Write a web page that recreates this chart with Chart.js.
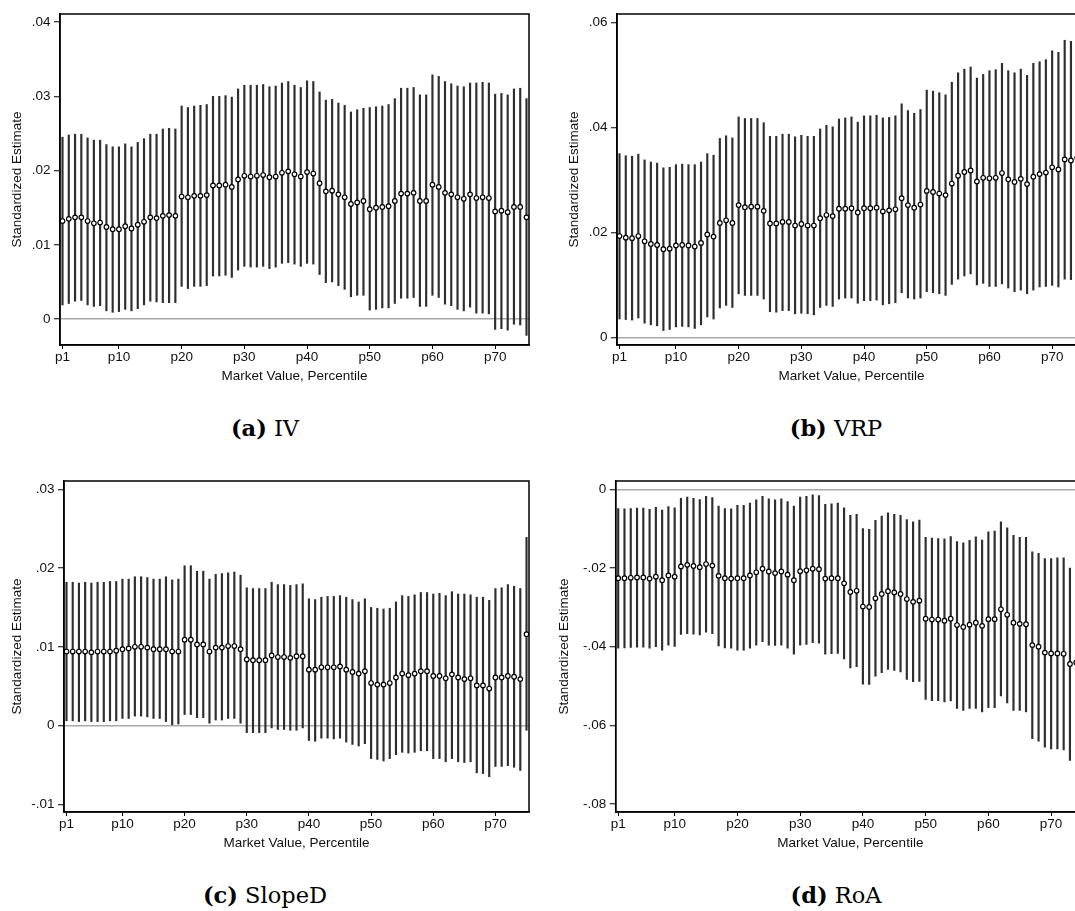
<!DOCTYPE html>
<html>
<head>
<meta charset="utf-8">
<title>Standardized estimates by market value percentile</title>
<script src="https://cdn.jsdelivr.net/npm/chart.js@4/dist/chart.umd.min.js"></script>
<style>
    html, body { margin: 0; padding: 0; background: #fff; overflow: hidden; width: 1075px; height: 911px; }
    .panel { position: absolute; }
    .cap { position: absolute; font-family: 'DejaVu Serif', serif; font-size: 22.5px; color: #000;
           transform: translate(-50%, -50%); white-space: nowrap; }
    .cap b { font-weight: bold; }
</style>
</head>
<body>
<canvas id="chartIV" class="panel" width="545" height="385" style="left:0px;top:0px"></canvas>
<canvas id="chartVRP" class="panel" width="545" height="385" style="left:556.7px;top:0px"></canvas>
<canvas id="chartSlope" class="panel" width="545" height="385" style="left:0px;top:467px"></canvas>
<canvas id="chartRoA" class="panel" width="553" height="385" style="left:548px;top:467px"></canvas>

<div class="cap" style="left:265px;top:428px"><b>(a)</b> IV</div>
<div class="cap" style="left:836px;top:428px"><b>(b)</b> VRP</div>
<div class="cap" style="left:265px;top:895px"><b>(c)</b> SlopeD</div>
<div class="cap" style="left:836px;top:895px"><b>(d)</b> RoA</div>

<script>
// x categories: market value percentiles p1..p75
const percentiles = Array.from({ length: 75 }, (_, i) => i + 1);
const xTicks = [1, 10, 20, 30, 40, 50, 60, 70];

// (a) IV
const ivEst = [
    .0132, .0135, .0137, .0137, .0132, .0129, .0130, .0124, .0121, .0121,
    .0125, .0122, .0127, .0131, .0137, .0136, .0139, .0140, .0139, .0165,
    .0164, .0166, .0166, .0167, .0180, .0180, .0181, .0178, .0188, .0193,
    .0192, .0193, .0194, .0191, .0192, .0197, .0199, .0195, .0192, .0198,
    .0196, .0183, .0172, .0173, .0168, .0164, .0155, .0157, .0159, .0148,
    .0150, .0151, .0152, .0159, .0169, .0169, .0170, .0159, .0159, .0181,
    .0178, .0170, .0168, .0164, .0162, .0168, .0163, .0164, .0163, .0145,
    .0146, .0144, .0151, .0151, .0137
];
const ivHi = [
    .0245, .0248, .0249, .0249, .0244, .0241, .0241, .0235, .0232, .0232,
    .0236, .0232, .0238, .0243, .0249, .0249, .0256, .0257, .0256, .0287,
    .0285, .0287, .0288, .0289, .0300, .0300, .0301, .0299, .0310, .0315,
    .0315, .0315, .0316, .0313, .0314, .0318, .0320, .0315, .0312, .0321,
    .0320, .0306, .0295, .0296, .0291, .0288, .0279, .0282, .0284, .0285,
    .0286, .0287, .0289, .0297, .0311, .0311, .0312, .0302, .0302, .0329,
    .0327, .0320, .0317, .0314, .0313, .0318, .0318, .0319, .0318, .0303,
    .0304, .0302, .0310, .0311, .0297
];
const ivLo = [
    .0019, .0021, .0024, .0025, .0019, .0017, .0018, .0011, .0009, .0010,
    .0013, .0011, .0014, .0019, .0024, .0023, .0022, .0022, .0022, .0044,
    .0041, .0044, .0044, .0045, .0058, .0058, .0059, .0056, .0066, .0071,
    .0070, .0070, .0071, .0068, .0070, .0075, .0076, .0074, .0071, .0075,
    .0074, .0060, .0049, .0050, .0045, .0040, .0030, .0032, .0032, .0012,
    .0013, .0015, .0015, .0021, .0028, .0028, .0029, .0017, .0017, .0032,
    .0029, .0020, .0018, .0013, .0011, .0016, .0008, .0008, .0007, -.0014,
    -.0013, -.0015, -.0007, -.0008, -.0022
];
const ivTicks = [0, .01, .02, .03, .04];

// (b) VRP
const vrpEst = [
    .0193, .0190, .0189, .0193, .0183, .0178, .0176, .0168, .0169, .0175,
    .0176, .0175, .0173, .0180, .0196, .0192, .0218, .0223, .0218, .0252,
    .0248, .0249, .0249, .0241, .0217, .0217, .0220, .0220, .0213, .0216,
    .0213, .0213, .0227, .0233, .0231, .0245, .0245, .0246, .0238, .0246,
    .0246, .0247, .0240, .0242, .0244, .0265, .0252, .0247, .0253, .0279,
    .0277, .0274, .0271, .0293, .0308, .0315, .0318, .0297, .0304, .0303,
    .0304, .0313, .0301, .0296, .0302, .0292, .0306, .0311, .0314, .0324,
    .0320, .0339, .0337, .0342, .0336
];
const vrpHi = [
    .0350, .0346, .0345, .0349, .0338, .0334, .0332, .0323, .0324, .0329,
    .0330, .0329, .0329, .0334, .0350, .0347, .0379, .0384, .0380, .0420,
    .0417, .0417, .0417, .0409, .0383, .0383, .0387, .0387, .0382, .0385,
    .0383, .0383, .0397, .0404, .0401, .0416, .0418, .0420, .0410, .0422,
    .0422, .0423, .0418, .0419, .0422, .0445, .0432, .0427, .0434, .0471,
    .0469, .0466, .0462, .0486, .0504, .0511, .0515, .0494, .0501, .0508,
    .0510, .0522, .0508, .0504, .0511, .0499, .0522, .0525, .0529, .0546,
    .0543, .0566, .0564, .0570, .0565
];
const vrpLo = [
    .0035, .0034, .0033, .0037, .0027, .0024, .0022, .0013, .0015, .0020,
    .0021, .0020, .0017, .0024, .0039, .0035, .0056, .0061, .0057, .0083,
    .0080, .0080, .0080, .0073, .0049, .0048, .0051, .0051, .0045, .0046,
    .0045, .0043, .0057, .0061, .0059, .0073, .0075, .0075, .0065, .0070,
    .0070, .0071, .0062, .0064, .0066, .0085, .0075, .0073, .0075, .0087,
    .0085, .0083, .0080, .0101, .0111, .0117, .0121, .0100, .0103, .0097,
    .0097, .0102, .0094, .0087, .0090, .0083, .0090, .0096, .0097, .0099,
    .0096, .0111, .0110, .0114, .0107
];
const vrpTicks = [0, .02, .04, .06];

// (c) SlopeD
const slopeEst = [
    .0094, .0094, .0094, .0094, .0093, .0094, .0094, .0094, .0095, .0097,
    .0098, .0100, .0100, .0099, .0097, .0097, .0097, .0094, .0094, .0109,
    .0109, .0103, .0103, .0094, .0099, .0099, .0101, .0101, .0097, .0084,
    .0083, .0083, .0083, .0089, .0087, .0087, .0086, .0088, .0088, .0071,
    .0071, .0074, .0074, .0074, .0075, .0071, .0068, .0066, .0069, .0054,
    .0052, .0052, .0054, .0061, .0066, .0064, .0066, .0069, .0069, .0063,
    .0063, .0060, .0065, .0061, .0059, .0060, .0051, .0051, .0047, .0061,
    .0061, .0063, .0062, .0059, .0116
];
const slopeHi = [
    .0182, .0182, .0181, .0182, .0181, .0182, .0182, .0183, .0183, .0186,
    .0186, .0189, .0189, .0188, .0186, .0186, .0189, .0185, .0186, .0203,
    .0203, .0196, .0196, .0186, .0192, .0193, .0194, .0195, .0191, .0175,
    .0174, .0174, .0174, .0182, .0179, .0179, .0178, .0179, .0180, .0161,
    .0160, .0163, .0164, .0164, .0165, .0163, .0160, .0157, .0161, .0150,
    .0149, .0148, .0149, .0157, .0165, .0164, .0166, .0169, .0169, .0167,
    .0168, .0165, .0170, .0167, .0167, .0166, .0163, .0163, .0159, .0174,
    .0175, .0179, .0177, .0174, .0239
];
const slopeLo = [
    .0006, .0006, .0005, .0006, .0005, .0005, .0005, .0006, .0006, .0009,
    .0009, .0012, .0012, .0011, .0009, .0009, .0005, .0001, .0002, .0014,
    .0014, .0010, .0010, .0003, .0007, .0007, .0009, .0009, .0003, -.0009,
    -.0009, -.0009, -.0009, -.0003, -.0005, -.0005, -.0006, -.0006, -.0003, -.0019,
    -.0020, -.0016, -.0016, -.0017, -.0016, -.0021, -.0024, -.0026, -.0023, -.0042,
    -.0043, -.0045, -.0042, -.0037, -.0034, -.0035, -.0034, -.0032, -.0032, -.0042,
    -.0042, -.0046, -.0042, -.0046, -.0047, -.0046, -.0060, -.0061, -.0065, -.0052,
    -.0052, -.0051, -.0053, -.0057, -.0006
];
const slopeTicks = [-.01, 0, .01, .02, .03];

// (d) RoA
const roaEst = [
    -.0226, -.0226, -.0225, -.0224, -.0224, -.0227, -.0222, -.0231, -.0219, -.0222,
    -.0196, -.0192, -.0195, -.0198, -.0190, -.0194, -.0220, -.0226, -.0227, -.0226,
    -.0226, -.0219, -.0211, -.0202, -.0209, -.0213, -.0209, -.0217, -.0231, -.0208,
    -.0206, -.0202, -.0203, -.0227, -.0226, -.0226, -.0239, -.0261, -.0258, -.0298,
    -.0299, -.0277, -.0266, -.0259, -.0262, -.0266, -.0279, -.0286, -.0283, -.0329,
    -.0331, -.0331, -.0334, -.0329, -.0345, -.0350, -.0344, -.0339, -.0347, -.0330,
    -.0330, -.0305, -.0319, -.0339, -.0342, -.0343, -.0396, -.0400, -.0415, -.0417,
    -.0417, -.0418, -.0444, -.0440, -.0446
];
const roaHi = [
    -.0049, -.0050, -.0049, -.0048, -.0048, -.0051, -.0046, -.0053, -.0044, -.0047,
    -.0023, -.0020, -.0023, -.0026, -.0018, -.0021, -.0043, -.0049, -.0050, -.0041,
    -.0041, -.0035, -.0027, -.0018, -.0024, -.0027, -.0024, -.0031, -.0043, -.0020,
    -.0018, -.0014, -.0016, -.0038, -.0037, -.0035, -.0047, -.0066, -.0064, -.0100,
    -.0102, -.0079, -.0068, -.0060, -.0064, -.0066, -.0077, -.0083, -.0078, -.0122,
    -.0124, -.0125, -.0126, -.0120, -.0133, -.0136, -.0130, -.0121, -.0129, -.0108,
    -.0106, -.0083, -.0098, -.0117, -.0122, -.0122, -.0159, -.0163, -.0176, -.0176,
    -.0174, -.0174, -.0200, -.0195, -.0200
];
const roaLo = [
    -.0404, -.0403, -.0402, -.0401, -.0401, -.0404, -.0400, -.0409, -.0396, -.0399,
    -.0369, -.0367, -.0368, -.0370, -.0363, -.0367, -.0398, -.0403, -.0404, -.0409,
    -.0409, -.0404, -.0396, -.0387, -.0396, -.0397, -.0396, -.0404, -.0419, -.0396,
    -.0394, -.0390, -.0391, -.0419, -.0418, -.0417, -.0431, -.0454, -.0451, -.0495,
    -.0496, -.0475, -.0466, -.0458, -.0460, -.0464, -.0483, -.0489, -.0488, -.0534,
    -.0537, -.0537, -.0540, -.0538, -.0557, -.0562, -.0557, -.0557, -.0566, -.0555,
    -.0555, -.0525, -.0543, -.0562, -.0562, -.0566, -.0634, -.0640, -.0655, -.0660,
    -.0660, -.0662, -.0689, -.0685, -.0692
];
const roaTicks = [-.08, -.06, -.04, -.02, 0];

// Stata-style tick text: 0, .01, -.02
function fmtTick(v) {
    if (Math.abs(v) < 1e-9) return '0';
    return (v < 0 ? '-' : '') + Math.abs(v).toFixed(2).slice(1);
}

// box round the plot region
const plotFrame = {
    id: 'plotFrame',
    afterDatasetsDraw(chart) {
        const { ctx, chartArea: a } = chart;
        ctx.save();
        ctx.strokeStyle = '#000';
        ctx.lineWidth = 1.5;
        ctx.strokeRect(a.left, a.top, a.right - a.left, a.bottom - a.top);
        ctx.restore();
    }
};

Chart.defaults.font.family = "'Liberation Sans', Arial, sans-serif";
Chart.defaults.font.size = 13.5;
Chart.defaults.color = '#111';

function initPanel(id, est, lo, hi, yTicks, yMin, yMax, yWidth, titlePad) {
    const ctx = document.getElementById(id);
    if (!ctx) return;

    new Chart(ctx, {
        type: 'bar',
        data: {
            datasets: [{
                type: 'line',
                data: percentiles.map((x, i) => ({ x: x, y: est[i] })),
                showLine: false,
                pointRadius: 2.3,
                pointBorderWidth: 1.2,
                pointBackgroundColor: '#fff',
                pointBorderColor: '#000',
                order: 1
            }, {
                type: 'bar',
                data: percentiles.map((x, i) => ({ x: x, y: [lo[i], hi[i]] })),
                backgroundColor: '#2e2e2e',
                borderWidth: 0,
                barThickness: 1.5,
                order: 2
            }]
        },
        options: {
            responsive: false,
            animation: false,
            devicePixelRatio: 1,
            layout: { padding: { top: 14, right: 16, bottom: 0, left: 0 } },
            plugins: {
                legend: { display: false },
                tooltip: { enabled: false }
            },
            scales: {
                x: {
                    type: 'linear',
                    min: 0.6,
                    max: 75.4,
                    offset: false,
                    afterBuildTicks: function(scale) {
                        scale.ticks = xTicks.map(v => ({ value: v }));
                    },
                    afterFit: function(scale) { scale.height = 40; },
                    ticks: {
                        autoSkip: false,
                        maxRotation: 0,
                        padding: 0,
                        callback: function(value) { return 'p' + value; }
                    },
                    grid: { offset: false, drawOnChartArea: false, tickLength: 4, tickColor: '#000', tickWidth: 1 },
                    border: { color: '#000', width: 1.5 },
                    title: {
                        display: true,
                        text: 'Market Value, Percentile',
                        padding: { top: 0, bottom: 1 }
                    }
                },
                y: {
                    min: yMin,
                    max: yMax,
                    afterBuildTicks: function(scale) {
                        scale.ticks = yTicks.map(v => ({ value: v }));
                    },
                    afterFit: function(scale) { scale.width = yWidth; },
                    ticks: { padding: 3.5, callback: fmtTick },
                    grid: {
                        drawOnChartArea: true,
                        color: function(c) {
                            return c.tick && Math.abs(c.tick.value) < 1e-9 ? '#a9a9a9' : 'rgba(0,0,0,0)';
                        },
                        lineWidth: 1.5,
                        tickLength: 6,
                        tickColor: '#000',
                        tickWidth: 1
                    },
                    border: { color: '#000', width: 1.5 },
                    title: {
                        display: true,
                        text: 'Standardized Estimate',
                        padding: { top: titlePad, bottom: 0 }
                    }
                }
            }
        },
        plugins: [plotFrame]
    });
}

initPanel('chartIV', ivEst, ivLo, ivHi, ivTicks, -0.0035, 0.0411, 60, 9.4);
initPanel('chartVRP', vrpEst, vrpLo, vrpHi, vrpTicks, -0.00145, 0.0616, 60, 8.7);
initPanel('chartSlope', slopeEst, slopeLo, slopeHi, slopeTicks, -0.01098, 0.03106, 64, 9.4);
initPanel('chartRoA', roaEst, roaLo, roaHi, roaTicks, -0.0820, 0.0021, 67.7, 7.9);
</script>
</body>
</html>
